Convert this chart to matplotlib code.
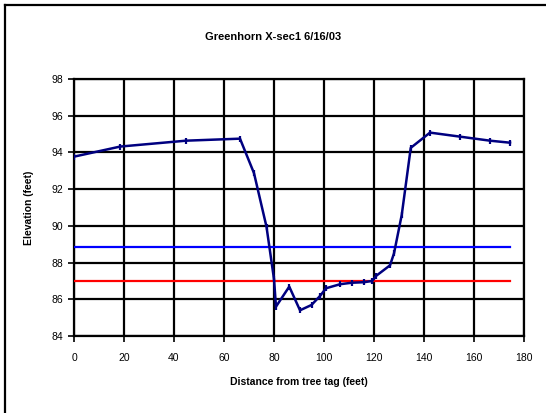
import matplotlib
matplotlib.use("Agg")
import matplotlib.pyplot as plt
from matplotlib.lines import Line2D

plt.rcParams['font.family'] = ['Liberation Sans', 'DejaVu Sans']

# surveyed cross-section
distance = [0, 18.5, 44.8, 66.4, 72, 77, 80, 80.8, 86.1, 90.4, 95, 98.4, 100.8,
            106.4, 111, 116, 119.3, 120.8, 126.4, 128, 131.1, 134.7, 142.4,
            154.4, 166.4, 174.4]
elevation = [93.77, 94.32, 94.64, 94.75, 92.87, 89.95, 87.1, 85.6, 86.69, 85.4,
             85.69, 86.18, 86.6, 86.82, 86.9, 86.93, 87.0, 87.27, 87.85, 88.5,
             90.6, 94.25, 95.08, 94.86, 94.64, 94.53]

# water levels
blue_x = [0, 174.4]
blue_y = [88.87, 88.87]
red_x = [0, 174.4]
red_y = [87.02, 87.02]

xticks = [0, 20, 40, 60, 80, 100, 120, 140, 160, 180]
yticks = [84, 86, 88, 90, 92, 94, 96, 98]

fig = plt.figure(figsize=(5.46, 4.13), dpi=100)
ax = fig.add_axes([74/546, 1 - 336/413, 450/546, 257/413])

ax.plot(blue_x, blue_y, color='#0000FF', lw=1.6, zorder=3)
ax.plot(red_x, red_y, color='#FF0000', lw=1.6, zorder=3)
ax.plot(distance, elevation, color='#000080', lw=1.8, marker='|',
        markersize=5, markeredgewidth=1.6, zorder=4)

ax.set_xlim(0, 180)
ax.set_ylim(84, 98)
ax.set_xticks(xticks)
ax.set_yticks(yticks)
ax.grid(True, color='black', lw=1.6)
for s in ax.spines.values():
    s.set_color('black')
    s.set_linewidth(1.6)
ax.tick_params(direction='out', length=4, width=1.2, labelsize=7.5,
               colors='black', pad=8)
ax.tick_params(axis='y', pad=4)

ax.set_xlabel('Distance from tree tag (feet)', fontsize=7.5, fontweight='bold',
              labelpad=10)
ax.set_ylabel('Elevation (feet)', fontsize=7.5, fontweight='bold', labelpad=12)
fig.text(0.5, 1 - 37/413, 'Greenhorn X-sec1 6/16/03', ha='center',
         va='center', fontsize=8, fontweight='bold')

# outer chart frame (only left and top edges show)
fig.add_artist(Line2D([5/546, 5/546], [0, 1 - 5/413], color='black', lw=1.6,
                      transform=fig.transFigure))
fig.add_artist(Line2D([5/546, 1], [1 - 5/413, 1 - 5/413], color='black', lw=1.6,
                      transform=fig.transFigure))

fig.savefig('out.png', dpi=100)
